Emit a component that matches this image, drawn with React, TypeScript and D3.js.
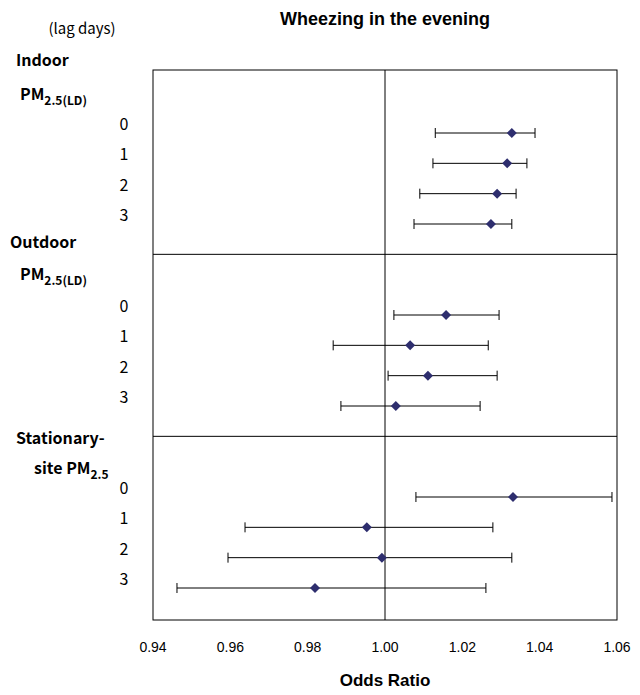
import * as d3 from "d3";

const lags = ["0", "1", "2", "3"];
const rowIndex = [0, 1, 2, 3, 6, 7, 8, 9, 12, 13, 14, 15];
const estimates = [1.0328, 1.0316, 1.029, 1.0274, 1.0158, 1.0065, 1.0111, 1.0028, 1.0331, 0.9953, 0.9992, 0.9819];
const lower = [1.013, 1.0124, 1.009, 1.0075, 1.0023, 0.9866, 1.0008, 0.9886, 1.008, 0.9638, 0.9594, 0.9462];
const upper = [1.0388, 1.0367, 1.0339, 1.0328, 1.0295, 1.0267, 1.029, 1.0246, 1.0587, 1.0279, 1.0328, 1.0261];
const ticks = [0.94, 0.96, 0.98, 1.0, 1.02, 1.04, 1.06];
const dividers = [4.0, 10.0];

export default function App() {
  const W = 640, H = 695;
  const x = d3.scaleLinear().domain([0.94, 1.06]).range([153, 617]);
  const y = d3.scaleLinear().domain([0, 15]).range([133, 588]);
  const top = 70, bottom = 620;
  const jp = "'Noto Sans CJK JP', sans-serif";
  const ar = "'Liberation Sans', Arial, sans-serif";
  return (
    <svg width={W} height={H} style={{ position: "absolute", left: 0, top: 0 }}>
      <rect width={W} height={H} fill="#fff" />
      <text x={385} y={25} textAnchor="middle" fontFamily={ar} fontWeight="bold" fontSize={18}>Wheezing in the evening</text>
      <text x={82} y={34} textAnchor="middle" fontFamily={jp} fontSize={15}>(lag days)</text>
      <rect x={x(0.94)} y={top} width={x(1.06) - x(0.94)} height={bottom - top} fill="none" stroke="#000" />
      <line x1={x(1)} x2={x(1)} y1={top} y2={bottom} stroke="#000" />
      {dividers.map((d, i) => (
        <line key={i} x1={x(0.94)} x2={x(1.06)} y1={y(d)} y2={y(d)} stroke="#000" />
      ))}
      <g fontFamily={jp} fontWeight="bold" fontSize={16}>
        <text x={16} y={66}>Indoor</text>
        <text x={20} y={100}>PM<tspan fontSize={12} dy={5}>2.5(LD)</tspan></text>
        <text x={10} y={248}>Outdoor</text>
        <text x={20} y={280}>PM<tspan fontSize={12} dy={5}>2.5(LD)</tspan></text>
        <text x={16} y={444}>Stationary-</text>
        <text x={34} y={474}>site PM<tspan fontSize={12} dy={5}>2.5</tspan></text>
      </g>
      {rowIndex.map((r, i) => {
        const cy = y(r);
        const cx = x(estimates[i]);
        return (
          <g key={i}>
            <text x={124} y={cy - 3} textAnchor="middle" fontFamily={jp} fontSize={16}>{lags[i % 4]}</text>
            <line x1={x(lower[i])} x2={x(upper[i])} y1={cy} y2={cy} stroke="#000" />
            <line x1={x(lower[i])} x2={x(lower[i])} y1={cy - 5} y2={cy + 5} stroke="#000" />
            <line x1={x(upper[i])} x2={x(upper[i])} y1={cy - 5} y2={cy + 5} stroke="#000" />
            <path d={`M${cx},${cy - 5}L${cx + 5},${cy}L${cx},${cy + 5}L${cx - 5},${cy}Z`} fill="#2e2e6e" />
          </g>
        );
      })}
      {ticks.map((t) => (
        <text key={t} x={x(t)} y={652} textAnchor="middle" fontFamily={ar} fontSize={14}>{t.toFixed(2)}</text>
      ))}
      <text x={x(1)} y={686} textAnchor="middle" fontFamily={ar} fontWeight="bold" fontSize={17}>Odds Ratio</text>
    </svg>
  );
}
